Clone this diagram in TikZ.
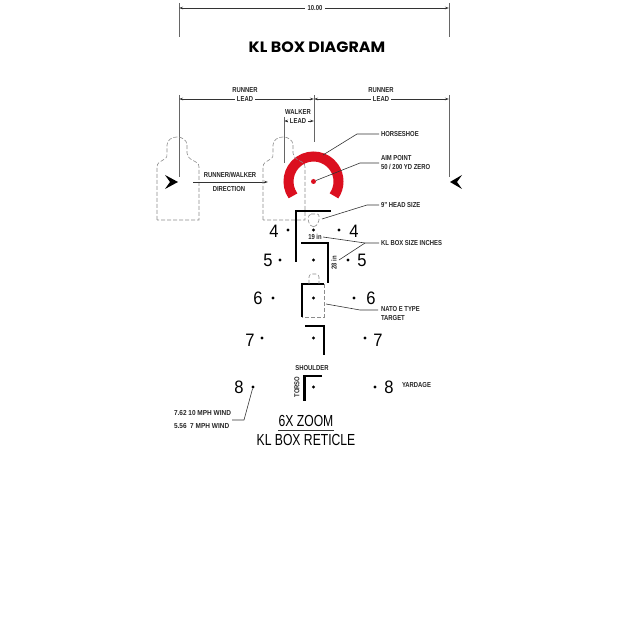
\documentclass[tikz,border=0pt]{standalone}
\usepackage{fontspec}
\setmainfont{Liberation Sans}
\newfontfamily\titlefont{Poppins}
\usetikzlibrary{arrows.meta,calc}
\definecolor{hsred}{HTML}{DB0F1F}
\tikzset{
  lbl/.style={font=\bfseries\fontsize{7.2}{8}\selectfont, xscale=.82, inner sep=0pt, outer xsep=3pt, text=black!85},
  lblw/.style={lbl, anchor=west, outer xsep=0pt},
  num/.style={font=\fontsize{18}{19}\selectfont, xscale=.92, inner sep=0pt},
  dotmark/.style={circle, fill=black, inner sep=0pt, minimum size=3.2pt},
  dimline/.style={draw=black!80, line width=0.6pt, -{Stealth[length=4pt,width=2.5pt]}},
  extline/.style={draw=black!60, line width=0.7pt},
  leader/.style={draw=black!80, line width=0.6pt},
  kl/.style={draw=black, line width=2.3pt},
  dashedline/.style={draw=black!45, line width=0.6pt, dash pattern=on 4pt off 2pt},
  silhouette/.pic={
    \draw[dashedline] (-21,38) -- (-21,-15) .. controls (-21,-19) and (-18,-20) .. (-15,-22) .. controls (-12,-24) and (-11,-24) .. (-11,-28) -- (-11,-37) .. controls (-11,-42) and (-6,-45) .. (-1,-45) .. controls (4,-45) and (9,-42) .. (9,-37) -- (9,-29) .. controls (9,-26) and (11,-24) .. (14,-22) .. controls (18,-20) and (21,-19) .. (21,-15) -- (21,38) -- cycle;
  }
}
\begin{document}
\begin{tikzpicture}[x=1pt, y=-1pt]
  \useasboundingbox (0,0) rectangle (630,628);

  % top dimension
  \node[lbl] (width) at (315,8) {10.00};
  \coordinate (wl) at (179,8);
  \coordinate (wr) at (449,8);
  \coordinate (wlt) at (179,3);
  \coordinate (wlb) at (179,37);
  \coordinate (wrt) at (449,3);
  \coordinate (wrb) at (449,37);
  \draw[extline] (wlt) -- (wlb);
  \draw[extline] (wrt) -- (wrb);
  \draw[dimline] (width) -- (wl);
  \draw[dimline] (width) -- (wr);
  \node[font=\titlefont\bfseries\fontsize{15}{16}\selectfont, xscale=1.06, inner sep=0pt] (title) at (317,47) {KL BOX DIAGRAM};

  % leads
  \node[lbl] (runnerl) at (245,90) {RUNNER};
  \node[lbl] (leadl) at (245,99) {LEAD};
  \node[lbl] (runnerr) at (381,90) {RUNNER};
  \node[lbl] (leadr) at (381,99) {LEAD};
  \node[lbl] (walker) at (298,112) {WALKER};
  \node[lbl] (leadw) at (298,121) {LEAD};
  \coordinate (el) at (179,95);
  \coordinate (elb) at (179,177);
  \coordinate (er) at (449,95);
  \coordinate (erb) at (449,177);
  \coordinate (ec) at (314,95);
  \coordinate (ecb) at (314,142);
  \coordinate (ew) at (284,117);
  \coordinate (ewb) at (284,163);
  \draw[extline] (el) -- (elb);
  \draw[extline] (er) -- (erb);
  \draw[extline] (ec) -- (ecb);
  \draw[extline] (ew) -- (ewb);
  \draw[dimline] (leadl) -- (el |- leadl);
  \draw[dimline] (leadl) -- (ec |- leadl);
  \draw[dimline] (leadr) -- (ec |- leadr);
  \draw[dimline] (leadr) -- (er |- leadr);
  \draw[dimline] (leadw) -- (ew |- leadw);
  \draw[dimline] (leadw) -- (ec |- leadw);

  % targets moving across
  \pic at (178,182) {silhouette};
  \coordinate (markl) at (178,182);
  \coordinate (markr) at (450,182);
  \coordinate (marklb) at (165,175);
  \coordinate (marklc) at (170,182);
  \coordinate (markld) at (165,189);
  \coordinate (markrb) at (462,175);
  \coordinate (markrc) at (457,182);
  \coordinate (markrd) at (462,189);
  \fill (markl) -- (marklb) -- (marklc) -- (markld) -- cycle;
  \fill (markr) -- (markrb) -- (markrc) -- (markrd) -- cycle;
  \node[lbl] (dir1) at (230,175) {RUNNER/WALKER};
  \node[lbl] (dir2) at (229,189) {DIRECTION};
  \coordinate (dirs) at (193,182);
  \coordinate (dire) at (268,182);
  \draw[dimline] (dirs) -- (dire);

  % horseshoe
  \coordinate (aim) at (313.5,181.5);
  \draw[hsred, line width=10pt] ($(aim)+(215:25pt)$) arc[start angle=215, end angle=-35, radius=25pt];
  \pic at (284,182) {silhouette};
  \node[circle, fill=hsred, inner sep=0pt, minimum size=5pt] (aimdot) at (aim) {};

  \node[lblw] (shoe) at (381,134) {HORSESHOE};
  \node[lblw] (aim1) at (381,158) {AIM POINT};
  \node[lblw] (aim2) at (381,167) {50 / 200 YD ZERO};
  \node[lblw] (head) at (381,205) {9" HEAD SIZE};
  \node[lblw] (size) at (381,243) {KL BOX SIZE INCHES};
  \node[lblw] (nato1) at (381,309) {NATO E TYPE};
  \node[lblw] (nato2) at (381,318) {TARGET};
  \node[lblw] (yard) at (402,385) {YARDAGE};
  \node[lblw, xscale=1.1] (wind1) at (174,413) {7.62 10 MPH WIND};
  \node[lblw, xscale=1.1] (wind2) at (174,426) {5.56 \ 7 MPH WIND};
  \node[lbl] (shoulder) at (312,368) {SHOULDER};
  \node[rotate=90, lbl] (torso) at (297,387) {TORSO};
  \node[lbl] (in19) at (315,237) {19 in};
  \node[rotate=90, lbl] (in28) at (334,263) {28 in};

  % kl boxes
  \coordinate (a1) at (296,262);
  \coordinate (a2) at (296,211);
  \coordinate (a3) at (331,211);
  \coordinate (b1) at (301,243);
  \coordinate (b2) at (328,243);
  \coordinate (b3) at (328,283);
  \coordinate (c1) at (324,284);
  \coordinate (c2) at (302,284);
  \coordinate (c3) at (302,317);
  \coordinate (d1) at (305,326);
  \coordinate (d2) at (324,326);
  \coordinate (d3) at (324,355);
  \coordinate (e1) at (322,376);
  \coordinate (e2) at (304.5,376);
  \coordinate (e3) at (304.5,401);
  \draw[kl] (a1) -- (a2) -- (a3);
  \draw[kl] (b1) -- (b2) -- (b3);
  \draw[kl] (c1) -- (c2) -- (c3);
  \draw[kl] (d1) -- (d2) -- (d3);
  \draw[kl] (e1) -- (e2) -- (e3);

  % small targets
  \draw[dashedline, rounded corners=2pt] (309,214) -- (319,214) -- (319,222) -- (315,227) -- (312,227) -- (308,222) -- cycle;
  \draw[dashedline] (c1) -- (324,317) -- (c3);
  \draw[dashedline, rounded corners=3pt] (309,284) -- (309,274) -- (319,274) -- (319,284);

  % reticle
  \node[dotmark] (c4) at (313.5,230) {};
  \node[dotmark] (c5) at (313.5,260) {};
  \node[dotmark] (c6) at (313.5,298) {};
  \node[dotmark] (c7) at (313.5,338) {};
  \node[dotmark] (c8) at (313.5,387) {};
  \node[dotmark] (l4) at (288,230) {};
  \node[dotmark] (r4) at (339,230) {};
  \node[dotmark] (l5) at (280,260) {};
  \node[dotmark] (r5) at (348,260) {};
  \node[dotmark] (l6) at (273,298) {};
  \node[dotmark] (r6) at (354,298) {};
  \node[dotmark] (l7) at (262,338) {};
  \node[dotmark] (r7) at (365,338) {};
  \node[dotmark] (l8) at (253,387) {};
  \node[dotmark] (r8) at (375,387) {};
  \node[num] (nl4) at (274,231) {4};
  \node[num] (nr4) at (354,231) {4};
  \node[num] (nl5) at (268,260) {5};
  \node[num] (nr5) at (362,260) {5};
  \node[num] (nl6) at (258,298) {6};
  \node[num] (nr6) at (371,298) {6};
  \node[num] (nl7) at (250,340) {7};
  \node[num] (nr7) at (378,340) {7};
  \node[num] (nl8) at (239,387) {8};
  \node[num] (nr8) at (389,387) {8};

  % leaders
  \coordinate (s0) at (323,155);
  \coordinate (s1) at (357,134);
  \coordinate (s2) at (379,134);
  \draw[leader] (s0) -- (s1) -- (s2);
  \coordinate (p1) at (360,163);
  \coordinate (p2) at (379,163);
  \draw[leader] (aimdot) -- (p1) -- (p2);
  \coordinate (h0) at (322,219);
  \coordinate (h1) at (367,205);
  \coordinate (h2) at (379,205);
  \draw[leader] (h0) -- (h1) -- (h2);
  \coordinate (k0) at (323,237);
  \coordinate (k1) at (365,243);
  \coordinate (k2) at (379,243);
  \coordinate (k3) at (339,260);
  \draw[leader] (k0) -- (k1) -- (k2);
  \draw[leader] (k3) -- (k1);
  \coordinate (t0) at (326,304);
  \coordinate (t1) at (360,310);
  \coordinate (t2) at (378,310);
  \draw[leader] (t0) -- (t1) -- (t2);
  \coordinate (w1) at (232,420);
  \coordinate (w2) at (244,420);
  \draw[leader] (w1) -- (w2) -- (l8);

  % caption
  \node[font=\fontsize{16}{17}\selectfont, xscale=.76, inner sep=0pt] (zoom) at (306,421) {6X ZOOM};
  \node[font=\fontsize{16}{17}\selectfont, xscale=.76, inner sep=0pt] (reticle) at (306,440) {KL BOX RETICLE};
  \coordinate (z1) at (278,430);
  \coordinate (z2) at (334,430);
  \draw[leader] (z1) -- (z2);
\end{tikzpicture}
\end{document}
